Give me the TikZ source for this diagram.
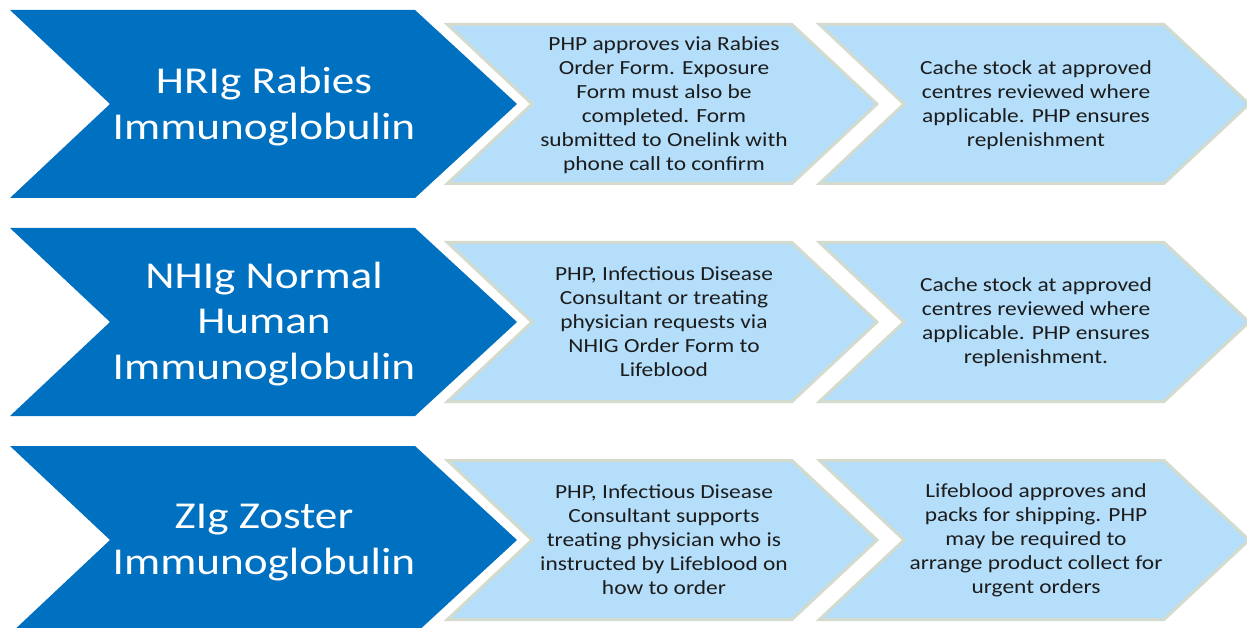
\documentclass[tikz,border=0pt]{standalone}
\usepackage{fontspec}
\setmainfont{Carlito}
\newfontfamily\darkfont{Carlito}[FakeStretch=1.19]
\newfontfamily\lightfont{Carlito}[FakeStretch=1.17]
\definecolor{darkblue}{RGB}{0,112,192}
\definecolor{lightblue}{RGB}{180,222,250}
\definecolor{edgegray}{RGB}{211,219,207}
\definecolor{textgray}{RGB}{28,28,28}
\tikzset{
  darkchev/.style={fill=darkblue},
  lightchev/.style={fill=lightblue, draw=edgegray, line width=3pt, line join=miter},
  darktext/.style={align=center, text=white, inner sep=0pt,
    font=\darkfont\fontsize{38}{45.5}\selectfont},
  lighttext/.style={align=center, text=textgray, inner sep=0pt,
    font=\lightfont\fontsize{20}{24}\selectfont}
}
\begin{document}
\begin{tikzpicture}[x=1pt,y=-1pt]
\useasboundingbox (0,0) rectangle (1247,628);
\clip (0,0) rectangle (1247,628);
\fill[white] (0,0) rectangle (1247,628);
\foreach \m in {104,322,540} {
  \fill[darkchev] (10,\m-94) -- (415,\m-94) -- (517,\m) -- (415,\m+94) -- (10,\m+94) -- (110,\m) -- cycle;
  \draw[lightchev] (447.5,\m-79.5) -- (792,\m-79.5) -- (877,\m) -- (792,\m+79.5) -- (447.5,\m+79.5) -- (532,\m) -- cycle;
  \draw[lightchev] (819.5,\m-79.5) -- (1164,\m-79.5) -- (1249,\m) -- (1164,\m+79.5) -- (819.5,\m+79.5) -- (904,\m) -- cycle;
}
% Row 1
\node[darktext] (a1) at (264,106.5) {HRIg Rabies\\Immunoglobulin};
\node[lighttext] (a2) at (664,105) {PHP approves via Rabies\\Order Form. Exposure\\Form must also be\\completed. Form\\submitted to Onelink with\\phone call to confirm};
\node[lighttext] (a3) at (1036,105) {Cache stock at approved\\centres reviewed where\\applicable. PHP ensures\\replenishment};
% Row 2
\node[darktext] (b1) at (264,324) {NHIg Normal\\Human\\Immunoglobulin};
\node[lighttext] (b2) at (664,322) {PHP, Infectious Disease\\Consultant or treating\\physician requests via\\NHIG Order Form to\\Lifeblood};
\node[lighttext] (b3) at (1036,322) {Cache stock at approved\\centres reviewed where\\applicable. PHP ensures\\replenishment.};
% Row 3
\node[darktext] (c1) at (264,542.5) {ZIg Zoster\\Immunoglobulin};
\node[lighttext] (c2) at (664,540) {PHP, Infectious Disease\\Consultant supports\\treating physician who is\\instructed by Lifeblood on\\how to order};
\node[lighttext] (c3) at (1036,540) {Lifeblood approves and\\packs for shipping. PHP\\may be required to\\arrange product collect for\\urgent orders};
\end{tikzpicture}
\end{document}
